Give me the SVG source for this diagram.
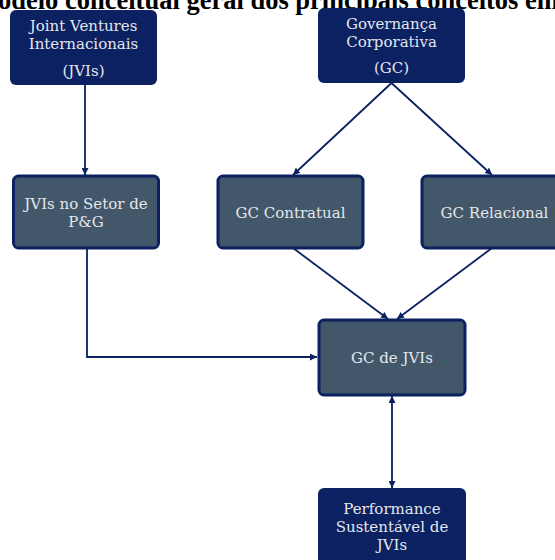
<svg xmlns="http://www.w3.org/2000/svg" width="555" height="560" viewBox="0 0 555 560">
  <style>
    .title { font-family: "Liberation Serif", "Times New Roman", serif; font-weight: bold; font-size: 26.5px; fill: #000; }
    .dark { fill: #0b2161; }
    .slate { fill: #425769; stroke: #0b2161; stroke-width: 3; }
    .lbl { font-family: "DejaVu Serif", serif; font-size: 15px; fill: #e4e7ec; text-anchor: middle; }
    .conn { fill: none; stroke: #0b2161; stroke-width: 1.8; }
  </style>
  <defs>
    <marker id="arrow" viewBox="0 0 10 10" refX="10" refY="5" markerWidth="7" markerHeight="7" markerUnits="userSpaceOnUse" orient="auto-start-reverse">
      <path d="M0,0 L10,5 L0,10 Z" fill="#0b2161"/>
    </marker>
  </defs>
  <rect width="555" height="560" fill="#ffffff"/>

  <text class="title" x="-2" y="9">odelo conceitual geral dos principais conceitos em</text>

  <g id="connectors">
    <path class="conn" d="M85,85 L85,175" marker-end="url(#arrow)"/>
    <path class="conn" d="M391.5,83 L293,175" marker-end="url(#arrow)"/>
    <path class="conn" d="M391.5,83 L492,175" marker-end="url(#arrow)"/>
    <path class="conn" d="M293,248 L388,319" marker-end="url(#arrow)"/>
    <path class="conn" d="M492,248 L397,319" marker-end="url(#arrow)"/>
    <path class="conn" d="M87,248 L87,357 L317,357" marker-end="url(#arrow)"/>
    <path class="conn" d="M392,396 L392,488" marker-start="url(#arrow)" marker-end="url(#arrow)"/>
  </g>

  <g id="jvi">
    <rect class="dark" x="10" y="10" width="147" height="75" rx="6"/>
    <text class="lbl" x="83.5" y="31">Joint Ventures</text>
    <text class="lbl" x="83.5" y="49">Internacionais</text>
    <text class="lbl" x="83.5" y="76">(JVIs)</text>
  </g>

  <g id="gc">
    <rect class="dark" x="318" y="8" width="147" height="75" rx="6"/>
    <text class="lbl" x="391.5" y="29">Governança</text>
    <text class="lbl" x="391.5" y="47">Corporativa</text>
    <text class="lbl" x="391.5" y="73">(GC)</text>
  </g>

  <g id="jvi-pg">
    <rect class="slate" x="13.5" y="176" width="145" height="72" rx="5"/>
    <text class="lbl" x="86" y="209">JVIs no Setor de</text>
    <text class="lbl" x="86" y="227">P&amp;G</text>
  </g>

  <g id="gc-contratual">
    <rect class="slate" x="218" y="176" width="145" height="72" rx="5"/>
    <text class="lbl" x="290.5" y="218">GC Contratual</text>
  </g>

  <g id="gc-relacional">
    <rect class="slate" x="422" y="176" width="145" height="72" rx="5"/>
    <text class="lbl" x="494.5" y="218">GC Relacional</text>
  </g>

  <g id="gc-jvi">
    <rect class="slate" x="319" y="320" width="146" height="75" rx="5"/>
    <text class="lbl" x="392" y="363">GC de JVIs</text>
  </g>

  <g id="performance">
    <rect class="dark" x="318" y="488" width="148" height="80" rx="6"/>
    <text class="lbl" x="392" y="514">Performance</text>
    <text class="lbl" x="392" y="532">Sustentável de</text>
    <text class="lbl" x="392" y="550">JVIs</text>
  </g>
</svg>
